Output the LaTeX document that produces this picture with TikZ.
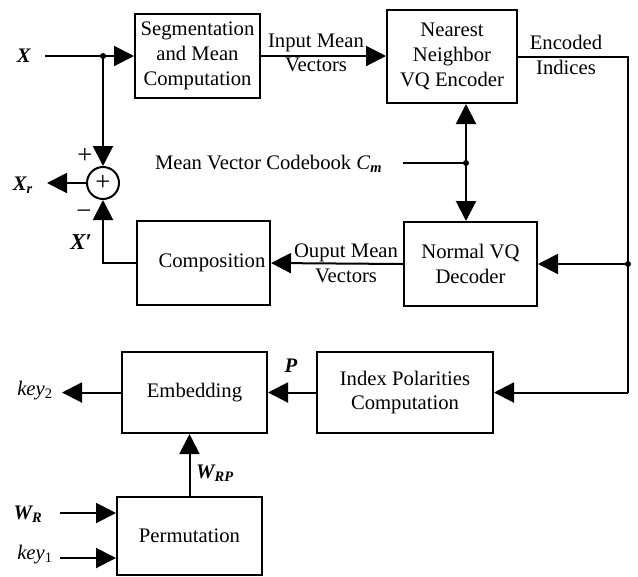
\documentclass[tikz,border=0pt]{standalone}
\usepackage{fontspec}
\setmainfont{Liberation Serif}
\usetikzlibrary{arrows.meta}
\begin{document}
\begin{tikzpicture}[x=0.75pt,y=-0.75pt,
  line width=1.5pt,
  font=\fontsize{15.5}{18.5}\selectfont,
  box/.style={draw,rectangle,inner sep=0pt,align=center},
  txt/.style={inner sep=0pt,align=center},
  arr/.style={-{Triangle[length=15pt,width=15pt]}},
  dot/.style={circle,fill,inner sep=0pt,minimum size=4.5pt}]
\useasboundingbox (0,0) rectangle (638,576);
% boxes
\node[box,minimum width=93.75pt,minimum height=63pt] (seg) at (197.5,56) {Segmentation\\and Mean\\Computation};
\node[box,minimum width=97.5pt,minimum height=69.75pt] (enc) at (452,56.5) {Nearest\\Neighbor\\VQ Encoder};
\node[box,minimum width=99.75pt,minimum height=63pt] (comp) at (203.5,263) {};
\node[txt] (compt) at (212,263) {Composition};
\node[box,minimum width=99.75pt,minimum height=63pt] (dec) at (470.5,264) {Normal VQ\\Decoder};
\node[box,minimum width=132pt,minimum height=60.75pt] (idx) at (405,392.5) {Index Polarities\\Computation};
\node[box,minimum width=108.75pt,minimum height=60.75pt] (emb) at (194.5,392.5) {Embedding};
\node[box,minimum width=108.75pt,minimum height=58.5pt] (perm) at (189.5,536) {Permutation};
\node[draw,circle,inner sep=0pt,minimum size=24pt,font=\fontsize{20}{20}\selectfont] (sum) at (103,183) {+};
% labels
\node[txt] (lx) at (24,56) {\textbf{\textit{X}}};
\node[txt] (lxr) at (23,185) {\textbf{\textit{X\textsubscript{r}}}};
\node[txt,font=\fontsize{20}{20}\selectfont] (lplus) at (85,156) {+};
\node[txt,font=\fontsize{20}{20}\selectfont] (lminus) at (84,215) {−};
\node[txt,font=\fontsize{17}{20}\selectfont] (lxp) at (81,242) {\textbf{\textit{X′}}};
\node[txt] (lin) at (316,53) {Input Mean\\Vectors};
\node[txt] (lout) at (346,263) {Ouput Mean\\Vectors};
\node[txt] (lenc) at (566,55) {Encoded\\Indices};
\node[txt,anchor=west] (lcb) at (154,164) {Mean Vector Codebook \textit{C}\textsubscript{\textbf{\textit{m}}}};
\node[txt] (lp) at (291,366) {\textbf{\textit{P}}};
\node[txt] (lwrp) at (215,473) {\textbf{\textit{W\textsubscript{RP}}}};
\node[txt] (lwr) at (28,514) {\textbf{\textit{W\textsubscript{R}}}};
\node[txt] (lk1) at (35,555) {\textit{key}\textsubscript{1}};
\node[txt] (lk2) at (35,391) {\textit{key}\textsubscript{2}};
% coordinates
\coordinate (xin) at (45,56);
\coordinate (j1) at (103,56);
\coordinate (xrt) at (47,183);
\coordinate (cbs) at (403,163);
\coordinate (jc) at (466,163);
\coordinate (c1) at (628,56.5);
\coordinate (jr) at (628,264);
\coordinate (c2) at (628,392.5);
\coordinate (k2t) at (62,392.5);
\coordinate (wrs) at (60,513);
\coordinate (k1s) at (60,558);
% connectors
\draw[arr] (xin) -- (seg.west);
\draw[arr] (j1) -- (sum.north);
\draw[arr] (sum.west) -- (xrt);
\draw[arr] (comp.west) -| (sum.south);
\draw[arr] (seg.east) -- (seg.east -| enc.west);
\draw (enc.east) -- (c1) -- (c2);
\draw[arr] (c2) -- (idx.east);
\draw[arr] (jr) -- (dec.east);
\draw (cbs) -- (jc);
\draw[arr] (jc) -- (jc |- enc.south);
\draw[arr] (jc) -- (jc |- dec.north);
\draw[arr] (dec.west) -- (comp.east);
\draw[arr] (idx.west) -- (emb.east);
\draw[arr] (emb.west) -- (k2t);
\draw[arr] (perm.north) -- (perm.north |- emb.south);
\draw[arr] (wrs) -- (wrs -| perm.west);
\draw[arr] (k1s) -- (k1s -| perm.west);
% junction dots
\node[dot] at (j1) {};
\node[dot] at (jc) {};
\node[dot] at (jr) {};
\end{tikzpicture}
\end{document}
